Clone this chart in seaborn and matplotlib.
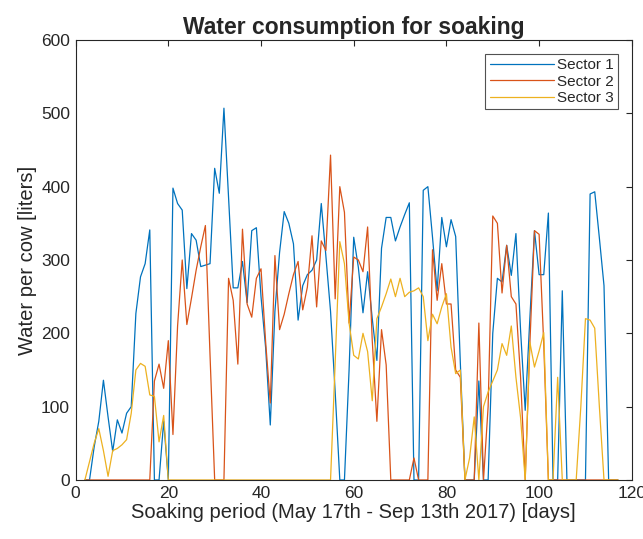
import numpy as np
import pandas as pd
import matplotlib
matplotlib.use("Agg")
import matplotlib.pyplot as plt
import seaborn as sns

# days of the soaking period (one value per day)
days = list(range(2, 118))

sector1 = [0, 0, 45, 80, 136, 86, 39, 82, 64, 91, 100, 227, 277, 295, 341,
           0, 0, 80, 0, 398, 377, 368, 261, 336, 327, 291, 293, 295, 425,
           391, 507, 385, 262, 262, 298, 242, 340, 344, 250, 180, 75, 230,
           310, 366, 350, 322, 218, 265, 280, 286, 300, 377, 305, 230, 120,
           0, 0, 150, 331, 290, 228, 284, 220, 163, 316, 358, 358, 326, 345,
           362, 378, 0, 0, 395, 400, 331, 258, 358, 318, 355, 332, 160, 0,
           0, 0, 135, 0, 0, 200, 275, 270, 320, 279, 336, 204, 95, 220, 340,
           280, 280, 364, 0, 0, 258, 0, 0, 0, 0, 0, 390, 393, 330, 265, 0,
           0, 0]

sector2 = [0, 0, 0, 0, 0, 0, 0, 0, 0, 0, 0, 0, 0, 0, 0,
           135, 158, 125, 190, 62, 210, 300, 212, 248, 286, 318, 347, 170,
           0, 0, 0, 275, 245, 158, 342, 240, 222, 275, 288, 188, 105, 306,
           205, 226, 254, 280, 298, 232, 263, 333, 236, 326, 313, 443, 247,
           400, 365, 214, 304, 300, 284, 345, 190, 80, 205, 157, 0, 0, 0, 0,
           0, 30, 0, 0, 0, 314, 245, 295, 240, 240, 150, 140, 0, 0, 0, 214,
           0, 100, 360, 350, 255, 320, 250, 240, 140, 0, 185, 340, 335, 185,
           0, 0, 0, 0, 0, 0, 0, 0, 0, 0, 0, 0, 0, 0, 0, 0]

sector3 = [0, 25, 50, 70, 40, 5, 40, 43, 48, 55, 91, 150, 159, 155, 116,
           114, 52, 88, 0, 0, 0, 0, 0, 0, 0, 0, 0, 0, 0, 0, 0, 0, 0, 0, 0,
           0, 0, 0, 0, 0, 0, 0, 0, 0, 0, 0, 0, 0, 0, 0, 0, 0, 0, 0, 160,
           325, 295, 214, 170, 165, 200, 175, 108, 220, 236, 254, 274, 250,
           275, 250, 256, 258, 262, 250, 190, 226, 213, 236, 254, 181, 145,
           150, 0, 30, 86, 0, 100, 120, 135, 150, 186, 170, 210, 140, 85, 0,
           188, 154, 176, 201, 0, 0, 140, 0, 0, 0, 0, 100, 220, 218, 207,
           100, 0, 0, 0, 0]

sector_names = ["Sector 1", "Sector 2", "Sector 3"]
colors = ["#0072BD", "#D95319", "#EDB120"]

df = pd.concat([
    pd.DataFrame({"day": days, "water": vals, "sector": name})
    for name, vals in zip(sector_names, [sector1, sector2, sector3])
])

sns.set_style("white")
plt.rcParams["font.family"] = ["Liberation Sans", "DejaVu Sans"]

fig = plt.figure(figsize=(6.43, 5.39), dpi=100)
ax = fig.add_axes([0.1176, 0.1095, 0.865, 0.8163])

sns.lineplot(data=df, x="day", y="water", hue="sector", palette=colors,
             linewidth=0.9, ax=ax, legend=True)

ax.set_xlim(0, 120)
ax.set_ylim(0, 600)
ax.set_xticks(range(0, 121, 20))
ax.set_yticks(range(0, 601, 100))
ax.tick_params(direction="in", length=4, width=0.8, colors="#262626",
               labelsize=12.5, top=True, right=True, pad=4)
for s in ax.spines.values():
    s.set_color("#262626")
    s.set_linewidth(0.8)

ax.set_title("Water consumption for soaking", fontsize=16.5, fontweight="bold",
             pad=4)
ax.set_xlabel("Soaking period (May 17th - Sep 13th 2017) [days]",
              fontsize=14.5, color="#262626", labelpad=2)
ax.set_ylabel("Water per cow [liters]", fontsize=14.5, color="#262626",
              labelpad=3)

leg = ax.legend(loc="upper right", fontsize=11, frameon=True, fancybox=False,
                edgecolor="#262626", handlelength=4.2, handletextpad=0.2,
                borderpad=0.3, labelspacing=0.15, borderaxespad=0.9,
                markerfirst=True)
leg.get_frame().set_linewidth(0.8)
for t in leg.get_texts():
    t.set_color("#262626")

fig.savefig("out.png", dpi=100)
